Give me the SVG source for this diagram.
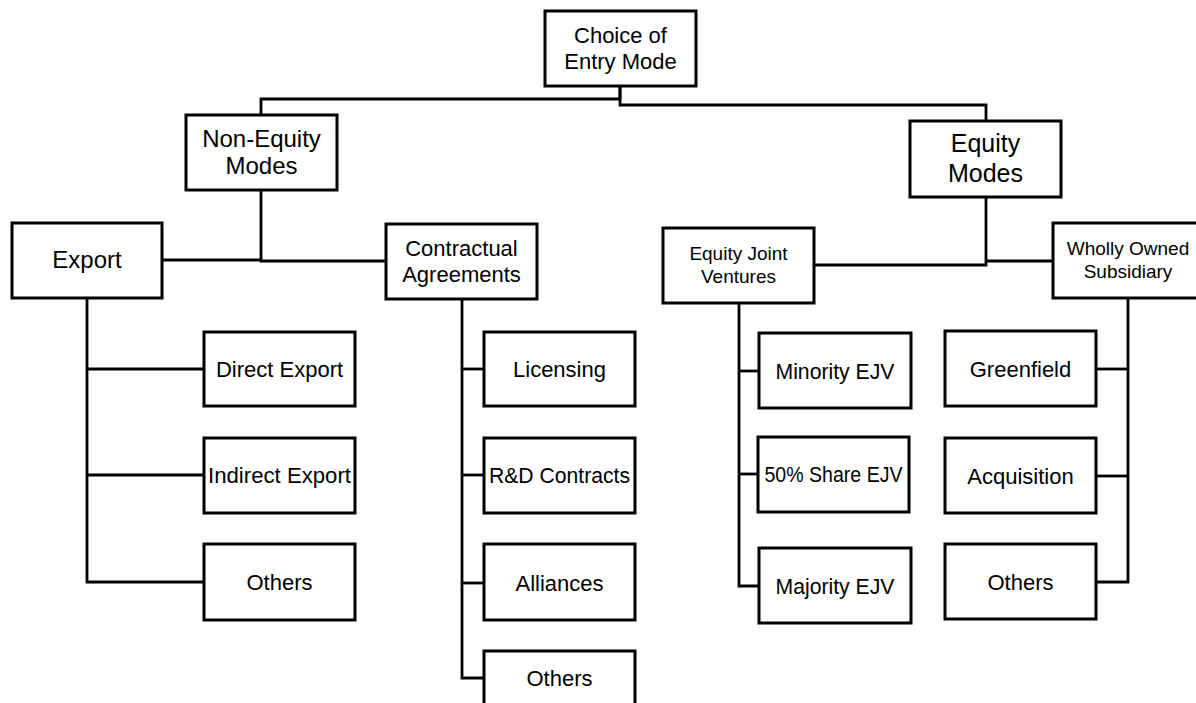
<svg xmlns="http://www.w3.org/2000/svg" width="1196" height="703" viewBox="0 0 1196 703">
  <style>
    .box { fill: #ffffff; stroke: #000000; stroke-width: 3; }
    .wire { fill: none; stroke: #000000; stroke-width: 2.8; stroke-linejoin: miter; }
    text { font-family: "Liberation Sans", Arial, sans-serif; fill: #000000; text-anchor: middle; }
    .leaf { font-size: 22px; }
    .mid { font-size: 22px; }
    .sm { font-size: 19px; }
    .big { font-size: 24px; }
    .big2 { font-size: 25px; }
  </style>
  <rect width="1196" height="703" fill="#ffffff"/>

  <!-- connectors -->
  <g id="connectors" class="wire">
    <path d="M620 86 V99 H261 V115"/>
    <path d="M620 86 V105 H986 V121"/>
    <path d="M162 260 H261 V190"/>
    <path d="M261 260 V261 H386"/>
    <path d="M986 197 V265 H814"/>
    <path d="M986 261 H1053"/>
    <!-- export branch -->
    <path d="M87 298 V582 H204"/>
    <path d="M87 369 H204"/>
    <path d="M87 475 H204"/>
    <!-- contractual branch -->
    <path d="M462 299 V678 H484"/>
    <path d="M462 369 H484"/>
    <path d="M462 475 H484"/>
    <path d="M462 583 H484"/>
    <!-- joint venture branch -->
    <path d="M739 303 V586 H759"/>
    <path d="M739 371 H759"/>
    <path d="M739 474 H758"/>
    <!-- subsidiary branch -->
    <path d="M1128 298 V582 H1096"/>
    <path d="M1128 369 H1096"/>
    <path d="M1128 476 H1096"/>
  </g>

  <g id="choice">
    <rect class="box" x="545" y="11" width="151" height="75"/>
    <text class="mid" x="620.5" y="43">Choice of</text>
    <text class="mid" x="620.5" y="69">Entry Mode</text>
  </g>

  <g id="non-equity">
    <rect class="box" x="186" y="115" width="151" height="75"/>
    <text class="big" x="261.5" y="147">Non-Equity</text>
    <text class="big" x="261.5" y="174">Modes</text>
  </g>

  <g id="equity">
    <rect class="box" x="910" y="121" width="151" height="76"/>
    <text class="big2" x="985.5" y="152">Equity</text>
    <text class="big2" x="985.5" y="182">Modes</text>
  </g>

  <g id="export">
    <rect class="box" x="12" y="223" width="150" height="75"/>
    <text class="big" x="87" y="268">Export</text>
  </g>

  <g id="contractual">
    <rect class="box" x="386" y="224" width="151" height="75"/>
    <text class="mid" x="461.5" y="256">Contractual</text>
    <text class="mid" x="461.5" y="282">Agreements</text>
  </g>

  <g id="ejv">
    <rect class="box" x="663" y="228" width="151" height="75"/>
    <text class="sm" x="738.5" y="260">Equity Joint</text>
    <text class="sm" x="738.5" y="283">Ventures</text>
  </g>

  <g id="wos">
    <rect class="box" x="1053" y="223" width="151" height="75"/>
    <text class="sm" x="1128" y="255">Wholly Owned</text>
    <text class="sm" x="1128" y="278">Subsidiary</text>
  </g>

  <g id="direct-export">
    <rect class="box" x="204" y="332" width="151" height="74"/>
    <text class="leaf" x="279.5" y="377">Direct Export</text>
  </g>
  <g id="indirect-export">
    <rect class="box" x="204" y="438" width="151" height="75"/>
    <text class="leaf" x="279.5" y="483" textLength="143" lengthAdjust="spacingAndGlyphs">Indirect Export</text>
  </g>
  <g id="export-others">
    <rect class="box" x="204" y="544" width="151" height="76"/>
    <text class="leaf" x="279.5" y="590">Others</text>
  </g>

  <g id="licensing">
    <rect class="box" x="484" y="332" width="151" height="74"/>
    <text class="leaf" x="559.5" y="377">Licensing</text>
  </g>
  <g id="rd-contracts">
    <rect class="box" x="484" y="438" width="151" height="75"/>
    <text class="leaf" x="559.5" y="483" textLength="141" lengthAdjust="spacingAndGlyphs">R&amp;D Contracts</text>
  </g>
  <g id="alliances">
    <rect class="box" x="484" y="544" width="151" height="76"/>
    <text class="leaf" x="559.5" y="591">Alliances</text>
  </g>
  <g id="contract-others">
    <rect class="box" x="484" y="651" width="151" height="75"/>
    <text class="leaf" x="559.5" y="686">Others</text>
  </g>

  <g id="minority-ejv">
    <rect class="box" x="759" y="333" width="152" height="75"/>
    <text class="leaf" x="835" y="379" textLength="119" lengthAdjust="spacingAndGlyphs">Minority EJV</text>
  </g>
  <g id="share-ejv">
    <rect class="box" x="758" y="437" width="151" height="75"/>
    <text class="leaf" x="833.5" y="482" textLength="138" lengthAdjust="spacingAndGlyphs">50% Share EJV</text>
  </g>
  <g id="majority-ejv">
    <rect class="box" x="759" y="548" width="152" height="75"/>
    <text class="leaf" x="835" y="594" textLength="119" lengthAdjust="spacingAndGlyphs">Majority EJV</text>
  </g>

  <g id="greenfield">
    <rect class="box" x="945" y="331" width="151" height="75"/>
    <text class="leaf" x="1020.5" y="377">Greenfield</text>
  </g>
  <g id="acquisition">
    <rect class="box" x="945" y="438" width="151" height="75"/>
    <text class="leaf" x="1020.5" y="484">Acquisition</text>
  </g>
  <g id="wos-others">
    <rect class="box" x="945" y="544" width="151" height="75"/>
    <text class="leaf" x="1020.5" y="590">Others</text>
  </g>
</svg>
